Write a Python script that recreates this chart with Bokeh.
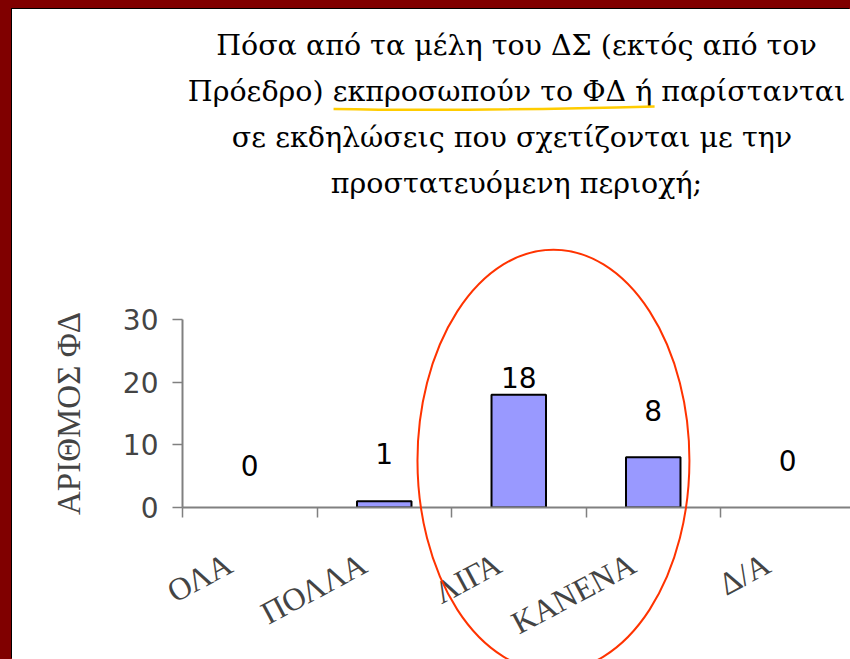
import numpy as np
from bokeh.plotting import figure
from bokeh.models import (Range1d, LinearAxis, FixedTicker, ColumnDataSource,
                          GlobalInlineStyleSheet)
from bokeh.core.properties import value
from bokeh.embed import file_html
from bokeh.resources import INLINE

# ---- data ----
categories = ["ΟΛΑ", "ΠΟΛΛΑ", "ΛΙΓΑ", "ΚΑΝΕΝΑ", "Δ/Α"]
counts = [0, 1, 18, 8, 0]
count_labels = ["0", "1", "18", "8", "0"]
y_ticks = [0, 10, 20, 30]
y_title = "ΑΡΙΘΜΟΣ ΦΔ"
title_lines = [
    "Πόσα από τα μέλη του ΔΣ (εκτός από τον",
    "Πρόεδρο) εκπροσωπούν το ΦΔ ή παρίστανται",
    "σε  εκδηλώσεις που σχετίζονται με την",
    "προστατευόμενη περιοχή;",
]

# ---- layout / style ----
label_lift = [-42, -48, -17, -47, -47]
n = len(categories)
centers = [i + 0.5 for i in range(n)]
boundaries = list(range(n + 1))
label_ticks = [c - 0.15 for c in centers]
bar_edge_alpha = [1.0 if c > 0 else 0.0 for c in counts]

SERIF = "DejaVu Serif"
TSERIF = "Liberation Serif"
SANS = "DejaVu Sans"
AXIS_GREY = "#808080"

PX_X = 134.5          # px per category
PX_Y = 188.0 / 30.0   # px per count
FRAME_L, FRAME_B = 182, 507   # window px of the data origin
WIN_W, WIN_H = 850, 659
X_END = (WIN_W - FRAME_L) / PX_X

p = figure(width=838, height=650, output_backend="svg", toolbar_location=None,
           title=None, x_range=Range1d(0, X_END), y_range=Range1d(0, 30),
           x_axis_type=None, y_axis_type=None,
           min_border_left=170, min_border_right=0, min_border_top=310, min_border_bottom=0,
           background_fill_color="white", border_fill_color="white",
           outline_line_color=None)
p.styles = {"box-shadow": "-1px -1px 0 0 black", "background-color": "white"}
p.stylesheets = [GlobalInlineStyleSheet(
    css="html,body{margin:0;padding:0;background:#800000;overflow:hidden;}"
        "body{padding:9px 0 0 12px;}")]

src = ColumnDataSource(dict(x=centers, top=counts, lab=count_labels, lift=label_lift,
                            edge=bar_edge_alpha))
p.vbar(x="x", top="top", bottom=0, width=0.405, source=src,
       fill_color="#9999FF", line_color="black", line_width=2, line_alpha="edge")
p.text(x="x", y="top", text="lab", y_offset="lift", source=src,
       text_align="center", text_baseline="middle",
       text_font=value(SANS), text_font_size="28px", text_color="black")

yaxis = LinearAxis(ticker=FixedTicker(ticks=y_ticks), axis_label=y_title,
                   axis_label_text_font=TSERIF, axis_label_text_font_size="33px",
                   axis_label_text_font_style="normal", axis_label_standoff=33,
                   major_label_text_font=SANS, major_label_text_font_size="28px",
                   major_label_standoff=14,
                   axis_line_color=AXIS_GREY, axis_line_width=2,
                   major_tick_line_color=AXIS_GREY, major_tick_line_width=1.5,
                   major_tick_out=10, major_tick_in=0,
                   minor_tick_line_color=None)
p.add_layout(yaxis, "left")

xaxis = LinearAxis(ticker=FixedTicker(ticks=label_ticks, minor_ticks=boundaries),
                   major_label_overrides={t: name for t, name in zip(label_ticks, categories)},
                   major_label_orientation=0.49,
                   major_label_text_font=TSERIF, major_label_text_font_size="32px",
                   major_label_standoff=44,
                   axis_line_color=AXIS_GREY, axis_line_width=2,
                   major_tick_line_color=None, major_tick_out=0, major_tick_in=0,
                   minor_tick_line_color=AXIS_GREY, minor_tick_line_width=1.5,
                   minor_tick_out=10, minor_tick_in=0)
p.add_layout(xaxis, "below")

# ---- transparent overlay sharing the chart's data space (whole window) ----
ov = figure(width=WIN_W, height=WIN_H, output_backend="svg", toolbar_location=None,
            title=None,
            x_range=Range1d(-FRAME_L / PX_X, X_END),
            y_range=Range1d(-(WIN_H - FRAME_B) / PX_Y, FRAME_B / PX_Y),
            x_axis_type=None, y_axis_type=None,
            min_border=0, min_border_left=0, min_border_right=0,
            min_border_top=0, min_border_bottom=0,
            background_fill_alpha=0, border_fill_alpha=0, outline_line_color=None)
ov.styles = {"position": "absolute", "left": "0px", "top": "0px",
             "pointer-events": "none"}

# title, four centred lines over the plot area
T_TOP, T_PITCH = (FRAME_B - 45) / PX_Y, 46 / PX_Y
ov.text(x=[X_END / 2] * len(title_lines),
        y=[T_TOP - i * T_PITCH for i in range(len(title_lines))],
        text=title_lines, text_align="center", text_baseline="middle",
        text_font=value(SERIF), text_font_size="28.5px", text_color="black")

# yellow underline under "εκπροσωπούν το ΦΔ ή"
ov.quadratic(x0=[1.123], y0=[63.6], x1=[3.51], y1=[64.0], cx=[2.1], cy=[63.2],
             line_color="#FFCC00", line_width=2.5)

# red ellipse around ΛΙΓΑ / ΚΑΝΕΝΑ
ov.ellipse(x=[2.758], y=[7.5], width=[2.022], height=[67.3],
           fill_color=None, line_color="#FF3300", line_width=2)

open("out.html", "w").write(file_html([p, ov], INLINE))
